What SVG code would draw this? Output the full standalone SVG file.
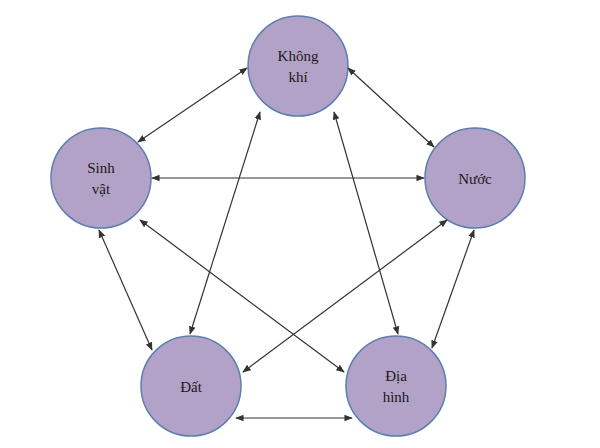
<svg xmlns="http://www.w3.org/2000/svg" width="600" height="448" viewBox="0 0 600 448">
<style>
.n{fill:#b3a2c7;stroke:#5b7fb0;stroke-width:1.5}
.t{font-family:"Liberation Serif",serif;font-size:15px;fill:#1a1a1a;text-anchor:middle}
.c line{stroke:#333;stroke-width:1.2;marker-start:url(#a);marker-end:url(#a)}
</style>
<defs><marker id="a" viewBox="0 0 10 10" refX="9" refY="5" markerWidth="7" markerHeight="7" orient="auto-start-reverse"><path d="M0,1 L10,5 L0,9 z" fill="#333"/></marker></defs>
<rect width="600" height="448" fill="#fff"/>
<g id="kk"><circle class="n" cx="298" cy="66" r="50"/><text class="t" x="298" y="61">Không</text><text class="t" x="298" y="82">khí</text></g>
<g id="sv"><circle class="n" cx="101" cy="178" r="50"/><text class="t" x="101" y="173">Sinh</text><text class="t" x="101" y="194">vật</text></g>
<g id="nuoc"><circle class="n" cx="475" cy="178" r="50"/><text class="t" x="475" y="184">Nước</text></g>
<g id="dat"><circle class="n" cx="191" cy="386" r="50"/><text class="t" x="191" y="392">Đất</text></g>
<g id="dh"><circle class="n" cx="396" cy="386" r="50"/><text class="t" x="396" y="381">Địa</text><text class="t" x="396" y="402">hình</text></g>
<g class="c">
<line x1="247" y1="68" x2="138" y2="142"/>
<line x1="348" y1="68" x2="434" y2="147"/>
<line x1="152" y1="178" x2="424" y2="178"/>
<line x1="260" y1="112" x2="190" y2="334"/>
<line x1="334" y1="112" x2="398" y2="334"/>
<line x1="99" y1="230" x2="152" y2="350"/>
<line x1="140" y1="220" x2="344" y2="372"/>
<line x1="447" y1="220" x2="243" y2="372"/>
<line x1="474" y1="230" x2="432" y2="348"/>
<line x1="236" y1="418" x2="352" y2="418"/>
</g>
</svg>
